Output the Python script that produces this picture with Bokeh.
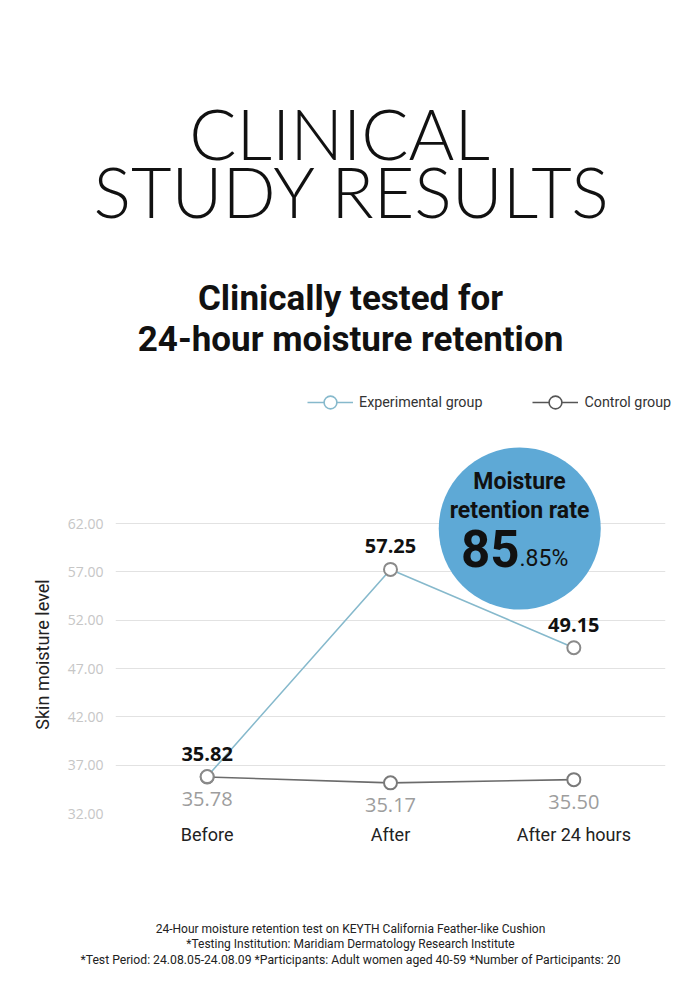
import math
from bokeh.plotting import figure
from bokeh.layouts import column, row
from bokeh.models import (FactorRange, Range1d, FixedTicker, PrintfTickFormatter, Label,
                          Legend, LegendItem, ColumnDataSource, LabelSet)
from bokeh.embed import file_html
from bokeh.resources import INLINE
from bokeh.core.properties import value

categories = ["Before", "After", "After 24 hours"]
experimental = [35.82, 57.25, 49.15]
control = [35.78, 35.17, 35.50]
y_ticks = [32, 37, 42, 47, 52, 57, 62]
retention_int = "85"
retention_dec = ".85%"

W, H = 700, 1002
TOP_H = 440          # height of the heading strip
MAIN_BOTTOM = 870    # page y where the footnote strip starts
SIDE_W = 60          # width of the strip holding the y-axis title
FL, FR, FB = 115, 665, 813   # plot frame left/right/bottom in page px
PX_PER_UNIT = 290 / 30.0
y_top = 32 + (FB - TOP_H) / PX_PER_UNIT
MAIN_H = MAIN_BOTTOM - TOP_H


def blank(w, h):
    f = figure(width=w, height=h, output_backend="svg", toolbar_location=None,
               x_range=Range1d(0, w), y_range=Range1d(0, h),
               x_axis_location=None, y_axis_location=None,
               min_border=0, min_border_left=0, min_border_right=0,
               min_border_top=0, min_border_bottom=0, frame_align=False)
    f.outline_line_color = None
    f.grid.visible = False
    return f


def make_lab(fig, left, bottom):
    def lab(text, X, Y, size, font="Roboto", style="normal", color="#111111", align="center"):
        # Y is the intended baseline on the page
        fig.add_layout(Label(x=X - left, y=bottom - (Y - 0.37 * size), x_units="screen",
                             y_units="screen", text=text, text_font=font,
                             text_font_size=f"{size}px", text_font_style=style,
                             text_color=color, text_align=align, text_baseline="alphabetic"))
    return lab


# ---------------- heading strip ----------------
top = blank(W, TOP_H)
tl = make_lab(top, 0, TOP_H)
tl("CLINICAL", 339, 158, 70, font="Lato Light")
tl("STUDY RESULTS", 352, 216, 70, font="Lato Light")
tl("Clinically tested for", 350, 311, 35, style="bold")
tl("24-hour moisture retention", 350, 352, 35, style="bold")

leg_x = list(range(len(categories)))
e_l = top.line(leg_x, experimental, line_color="#86b9cc", line_width=1.6, visible=False)
e_s = top.scatter(leg_x, experimental, size=13, fill_color="white", line_color="#86b9cc",
                  line_width=1.6, visible=False)
c_l = top.line(leg_x, control, line_color="#555555", line_width=1.6, visible=False)
c_s = top.scatter(leg_x, control, size=13, fill_color="white", line_color="#555555",
                  line_width=1.6, visible=False)
legend = Legend(items=[LegendItem(label="Experimental group", renderers=[e_l, e_s], index=0),
                       LegendItem(label="Control group", renderers=[c_l, c_s], index=0)],
                location=(307, TOP_H - 418), orientation="horizontal",
                glyph_width=46, glyph_height=32, label_standoff=6, spacing=50,
                padding=0, margin=0, border_line_color=None, background_fill_alpha=0,
                inactive_fill_alpha=0,
                label_text_font="Roboto", label_text_font_size="14.3px",
                label_text_color="#333333")
top.add_layout(legend)

# ---------------- y-axis title strip ----------------
side = blank(SIDE_W, MAIN_H)
side.add_layout(Label(x=42, y=MAIN_BOTTOM - 654, x_units="screen", y_units="screen",
                      text="Skin moisture level", angle=math.pi / 2, text_font="Roboto",
                      text_font_size="18px", text_color="#222222", text_align="center",
                      text_baseline="middle"))

# ---------------- chart ----------------
p = figure(width=W - SIDE_W, height=MAIN_H, output_backend="svg", toolbar_location=None,
           x_range=FactorRange(*categories, range_padding=0),
           y_range=Range1d(32, y_top),
           min_border_left=FL - SIDE_W, min_border_right=W - FR, min_border_top=0,
           min_border_bottom=MAIN_BOTTOM - FB, frame_align=False)
p.outline_line_color = None

p.xgrid.grid_line_color = None
p.ygrid.ticker = FixedTicker(ticks=y_ticks)
p.ygrid.grid_line_color = "#e2e2e2"
p.ygrid.grid_line_width = 1.2

p.yaxis.ticker = FixedTicker(ticks=y_ticks)
p.yaxis.formatter = PrintfTickFormatter(format="%.2f")
p.yaxis.axis_line_color = None
p.yaxis.major_tick_line_color = None
p.yaxis.minor_tick_line_color = None
p.yaxis.major_tick_out = 0
p.yaxis.major_label_text_color = "#c6c6c6"
p.yaxis.major_label_text_font = "Open Sans"
p.yaxis.major_label_text_font_size = "14px"
p.yaxis.major_label_standoff = 12

p.xaxis.axis_line_color = None
p.xaxis.major_tick_line_color = None
p.xaxis.minor_tick_line_color = None
p.xaxis.major_tick_out = 0
p.xaxis.major_label_text_color = "#222222"
p.xaxis.major_label_text_font = "Roboto"
p.xaxis.major_label_text_font_size = "18px"
p.xaxis.major_label_standoff = 10

ml = make_lab(p, FL, FB)

# Bubble
p.scatter(x=[("After 24 hours", -0.295)], y=[32 + (FB - 528) / PX_PER_UNIT], size=162,
          fill_color="#5ea9d6", line_color=None)
ml("Moisture", 519, 490, 23, style="bold")
ml("retention rate", 519, 519, 23, style="bold")
ml(retention_int, 519, 567, 51, style="bold", align="right")
ml(retention_dec, 519, 567, 23, align="left")

# Series
src = ColumnDataSource(dict(cat=categories, exp=experimental, ctl=control,
                            exp_t=[f"{v:.2f}" for v in experimental],
                            ctl_t=[f"{v:.2f}" for v in control]))
p.line("cat", "ctl", source=src, line_color="#6b6b6b", line_width=1.6)
p.scatter("cat", "ctl", source=src, size=13, fill_color="white", line_color="#7a7a7a",
          line_width=2)
p.line("cat", "exp", source=src, line_color="#86b9cc", line_width=1.6)
p.scatter("cat", "exp", source=src, size=13, fill_color="white", line_color="#8a8a8a",
          line_width=2)

p.add_layout(LabelSet(x="cat", y="exp", text="exp_t", source=src, y_offset=16,
                      text_align="center", text_baseline="alphabetic",
                      text_font=value("Open Sans"), text_font_size="20px",
                      text_font_style="bold", text_color="#111111"))
p.add_layout(LabelSet(x="cat", y="ctl", text="ctl_t", source=src, y_offset=-15,
                      text_align="center", text_baseline="top",
                      text_font=value("Open Sans"), text_font_size="20px",
                      text_color="#9d9d9d"))

# ---------------- footnote strip ----------------
bot = blank(W, H - MAIN_BOTTOM)
bl = make_lab(bot, 0, H)
bl("24-Hour moisture retention test on KEYTH California Feather-like Cushion", 350, 933, 12,
   color="#222222")
bl("*Testing Institution: Maridiam Dermatology Research Institute", 350, 948, 12,
   color="#222222")
bl("*Test Period: 24.08.05-24.08.09 *Participants: Adult women aged 40-59 *Number of Participants: 20",
   350, 964, 12.2, color="#222222")

layout = column(top, row(side, p, spacing=0), bot, spacing=0)
open("out.html", "w").write(file_html(layout, INLINE))
